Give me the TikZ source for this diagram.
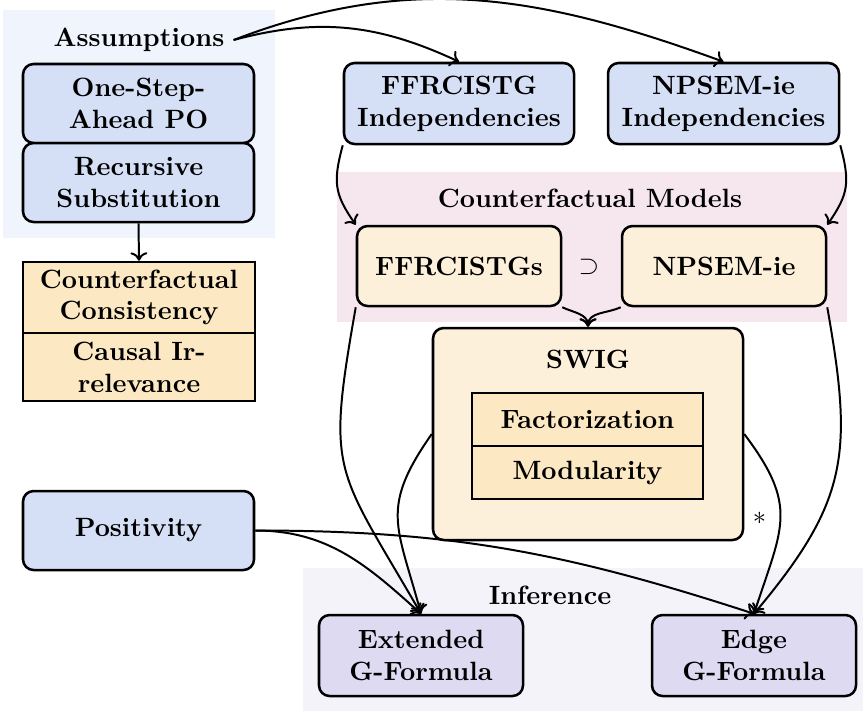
\documentclass[tikz,border=0pt]{standalone}
\usetikzlibrary{arrows.meta}
\newlength{\pxu}\setlength{\pxu}{0.378pt}
\definecolor{asmbg}{HTML}{EFF4FD}
\definecolor{nblue}{HTML}{D5E0F7}
\definecolor{cmbg}{HTML}{F6E7EF}
\definecolor{cream}{HTML}{FDF0DA}
\definecolor{wheatc}{HTML}{FCE8C3}
\definecolor{infbg}{HTML}{F5F3FA}
\definecolor{lav}{HTML}{DEDAF1}
\begin{document}
\begin{tikzpicture}[x=0.378pt,y=-0.378pt,
  box/.style={draw, line width=0.95pt, rounded corners=4pt, align=center, font=\bfseries, inner sep=0pt},
  sbox/.style={draw, line width=0.95pt, align=center, font=\bfseries, inner sep=0pt},
  grp/.style={font=\bfseries},
  arr/.style={line width=0.75pt, -{To[length=3.2pt,width=6.4pt]}}
]
\useasboundingbox (0,0) rectangle (863,711);
% group backgrounds
\fill[asmbg] (3,10) rectangle (275,238);
\fill[cmbg] (337,172) rectangle (847,322);
\fill[infbg] (303,568) rectangle (863,711);
\node[grp] (ass) at (139,40) {Assumptions};
\node[grp] (cml) at (590,198) {Counterfactual Models};
\node[grp] (infl) at (550,595.5) {Inference};
% assumption nodes
\node[box, fill=nblue, minimum width=231\pxu, minimum height=79\pxu] (osa) at (138.5,103.5) {One-Step-\\Ahead PO};
\node[box, fill=nblue, minimum width=231\pxu, minimum height=79\pxu] (rs) at (138.5,182.5) {Recursive\\Substitution};
\node[sbox, fill=wheatc, minimum width=232\pxu, minimum height=71\pxu] (cc) at (139,297.5) {Counterfactual\\Consistency};
\node[sbox, fill=wheatc, minimum width=232\pxu, minimum height=68\pxu] (ci) at (139,367) {Causal Ir-\\relevance};
\node[box, fill=nblue, minimum width=231\pxu, minimum height=79\pxu] (pos) at (138.5,530.5) {Positivity};
% independencies
\node[box, fill=nblue, minimum width=230\pxu, minimum height=81\pxu] (fi) at (459,103.5) {FFRCISTG\\Independencies};
\node[box, fill=nblue, minimum width=231\pxu, minimum height=81\pxu] (ni) at (723.5,103.5) {NPSEM-ie\\Independencies};
% models
\node[box, fill=cream, minimum width=204\pxu, minimum height=80\pxu] (ff) at (459,266) {FFRCISTGs};
\node[box, fill=cream, minimum width=204\pxu, minimum height=80\pxu] (np) at (724,266) {NPSEM-ie};
\node (sup) at (589,267) {$\supset$};
% SWIG
\node[box, fill=cream, minimum width=310\pxu, minimum height=212\pxu] (swig) at (588,434) {};
\node[grp] (swigl) at (588,359) {SWIG};
\node[sbox, fill=wheatc, minimum width=231\pxu, minimum height=53\pxu] (fac) at (587.5,419.5) {Factorization};
\node[sbox, fill=wheatc, minimum width=231\pxu, minimum height=53\pxu] (mod) at (587.5,472.5) {Modularity};
% inference
\node[box, fill=lav, minimum width=204\pxu, minimum height=81\pxu] (ext) at (421,655.5) {Extended\\G-Formula};
\node[box, fill=lav, minimum width=204\pxu, minimum height=81\pxu] (edge) at (754,655.5) {Edge\\G-Formula};
% connectors
\draw[arr] (ass.east) to[out=15,in=155] (fi.north);
\draw[arr] (ass.east) to[out=21,in=160] (ni.north);
\draw[arr] (rs.south) -- (cc.north);
\draw[arr] (fi.south west) to[out=-105,in=125,looseness=1.2] (ff.north west);
\draw[arr] (ni.south east) to[out=-75,in=55,looseness=1.2] (np.north east);
\draw[arr] (ff.south east) to[out=-25,in=90] (swig.north);
\draw[arr] (np.south west) to[out=-155,in=90] (swig.north);
\draw[arr] (ff.south west) to[out=-100,in=120,looseness=1.4] (ext.north);
\draw[arr] (swig.west) to[out=-125,in=105,looseness=1.3] (ext.north);
\draw[arr] (pos.east) to[out=0,in=138] (ext.north);
\draw[arr] (pos.east) to[out=0,in=162] (edge.north);
\draw[arr] (swig.east) to[out=-53,in=72,looseness=1.3] node[pos=0.5,left=4pt,inner sep=1pt] {$*$} (edge.north);
\draw[arr] (np.south east) to[out=-80,in=50,looseness=1.2] (edge.north);
\end{tikzpicture}
\end{document}
